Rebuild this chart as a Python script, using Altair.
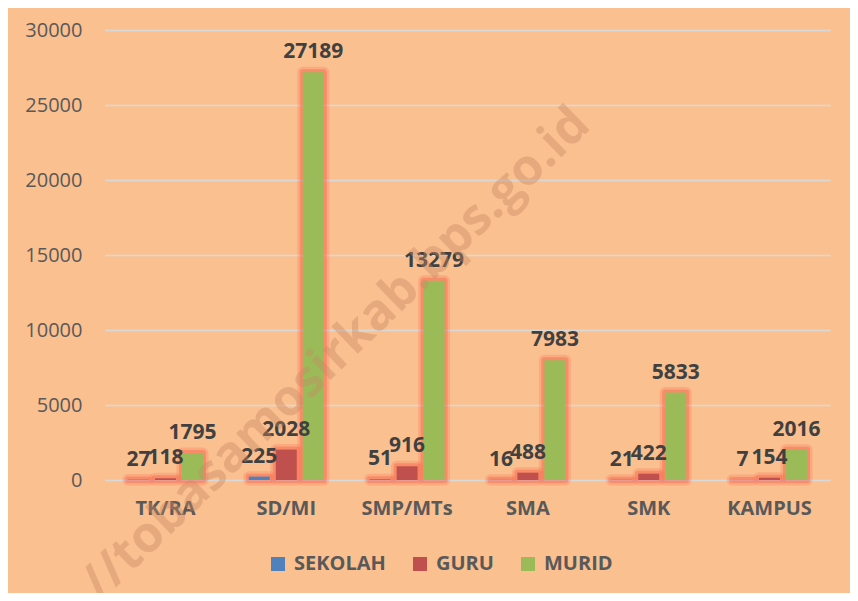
import altair as alt
import pandas as pd

categories = ["TK/RA", "SD/MI", "SMP/MTs", "SMA", "SMK", "KAMPUS"]
series_names = ["SEKOLAH", "GURU", "MURID"]
sekolah = [27, 225, 51, 16, 21, 7]
guru = [118, 2028, 916, 488, 422, 154]
murid = [1795, 27189, 13279, 7983, 5833, 2016]
y_ticks = [0, 5000, 10000, 15000, 20000, 25000, 30000]
colors = ["#4F81BD", "#C0504D", "#9BBB59"]
watermark = "//tobasamosirkab.bps.go.id"

rows = []
for s, vals in zip(series_names, [sekolah, guru, murid]):
    for c, v in zip(categories, vals):
        rows.append({"cat": c, "series": s, "value": v})
df = pd.DataFrame(rows)

FONT = "Open Sans"

base = alt.Chart(df).encode(
    x=alt.X("cat:N", sort=categories, title=None,
            scale=alt.Scale(paddingInner=0.379, paddingOuter=0.19),
            axis=alt.Axis(labelAngle=0, domain=False, ticks=False, grid=False,
                          labelFont=FONT, labelFontSize=20, labelFontWeight="bold",
                          labelColor="#595959", labelPadding=18)),
    xOffset=alt.XOffset("series:N", sort=series_names,
                        scale=alt.Scale(paddingInner=0.222, paddingOuter=0)),
    y=alt.Y("value:Q", title=None,
            scale=alt.Scale(domain=[0, 30000], nice=False),
            axis=alt.Axis(values=y_ticks, format="d", domain=False, ticks=False,
                          gridColor="#D9D9D9", gridWidth=1.5,
                          labelFont=FONT, labelFontSize=20, labelColor="#595959",
                          labelPadding=23)),
)

glow1 = base.mark_bar(fill="transparent", stroke="#FF4A36", strokeWidth=11,
                      strokeOpacity=0.18, strokeJoin="round")
glow2 = base.mark_bar(fill="transparent", stroke="#F4553E", strokeWidth=6,
                      strokeOpacity=0.35, strokeJoin="round")

bars = base.mark_bar().encode(
    color=alt.Color("series:N", sort=series_names,
                    scale=alt.Scale(domain=series_names, range=colors),
                    legend=alt.Legend(title=None, orient="none", direction="horizontal",
                                      legendX=163, legendY=524,
                                      symbolType="square", symbolSize=196,
                                      symbolStrokeWidth=0,
                                      labelFont=FONT, labelFontSize=20,
                                      labelFontWeight="bold", labelColor="#595959",
                                      labelOffset=6, columnPadding=24))
)

labels = base.mark_text(baseline="bottom", dy=-10, font=FONT, fontSize=21,
                        fontWeight="bold", color="#404040").encode(
    text=alt.Text("value:Q", format="d")
)

wm = alt.Chart(pd.DataFrame({"t": [watermark]})).mark_text(
    angle=316, align="center", baseline="middle", font=FONT, fontSize=50,
    fontWeight="bold", color="#C88963", opacity=0.4
).encode(text="t:N", x=alt.value(231), y=alt.value(324))

chart = alt.layer(glow1, glow2, bars, labels, wm).properties(
    width=725, height=450,
    background="#FAC090",
    padding={"left": 97, "top": 22, "right": 20, "bottom": 113},
    autosize=alt.AutoSizeParams(type="none"),
).configure_view(stroke=None)

chart.save("out.html", embed_options={"renderer": "svg", "actions": False})
